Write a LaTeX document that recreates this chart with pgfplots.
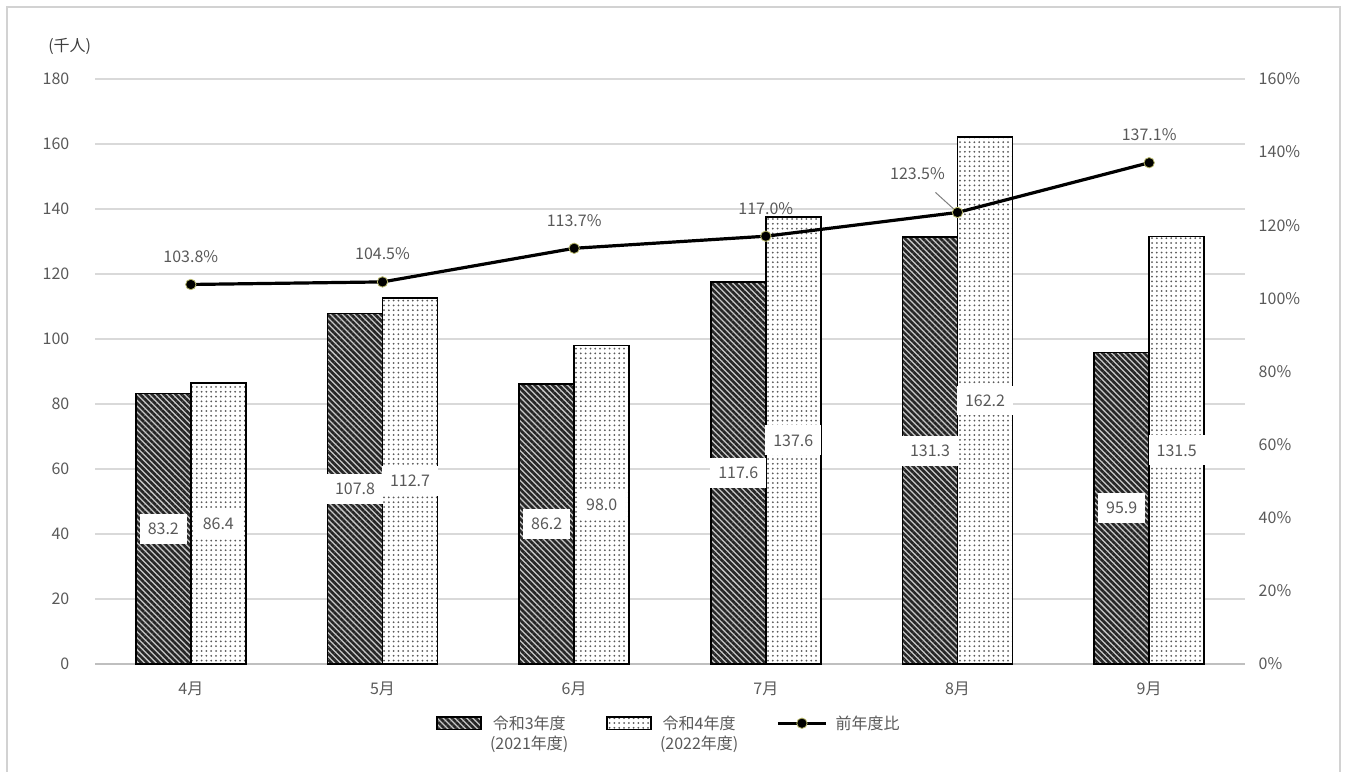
\documentclass[border=0pt]{standalone}
\usepackage{fontspec}
\setmainfont{Noto Sans CJK JP}
\usepackage{pgfplots}
\pgfplotsset{compat=1.18}
\usepackage{pgfplotstable}
\usetikzlibrary{patterns.meta}

\definecolor{txt}{HTML}{595959}
\definecolor{gridc}{HTML}{D9D9D9}
\definecolor{axisc}{HTML}{BFBFBF}
\definecolor{mkc}{HTML}{B8B86A}

% visitors (thousand persons), FY2021 vs FY2022
\pgfplotstableread{
x  v21   v22
0  83.2  86.4
1  107.8 112.7
2  86.2  98.0
3  117.6 137.6
4  131.3 162.2
5  95.9  131.5
}\visitors

% ratio to previous year (%), label offsets in pt
\pgfplotstableread{
x  r     dx   dy
0  103.8 0    14
1  104.5 0    14
2  113.7 0    14
3  117.0 0    14
4  123.5 -20  19.5
5  137.1 0    14
}\ratio

\pgfplotsset{
  /pgf/number format/assume math mode=true,
  base/.style={
    scale only axis, width=575pt, height=292.5pt,
    xmin=-0.5, xmax=5.5,
    tick label style={text=txt},
    major tick length=0pt,
  },
  s21/.style={draw=black, line width=0.8pt, fill=black!22,
    postaction={pattern={Lines[angle=-45,distance=2.1pt,line width=1.3pt]}, pattern color=black!85}},
  s22/.style={draw=black, line width=0.8pt, fill=white,
    postaction={pattern={Dots[distance=2.4pt,radius=0.5pt]}, pattern color=black!65}},
  barleg/.style={legend image code/.code={\draw[##1] (0pt,2.3pt) rectangle (22pt,8.7pt);}},
  lineleg/.style={legend image code/.code={\draw[mark repeat=2,mark phase=2,##1] plot coordinates {(0pt,5.5pt) (12pt,5.5pt) (24pt,5.5pt)};}},
  barlabel/.style={
    nodes near coords={\pgfmathprintnumber[fixed,precision=1,fixed zerofill]{\pgfplotspointmeta}},
    every node near coord/.append style={anchor=center, yshift={-0.8125pt*\hv},
      fill=white, text=txt, inner xsep=4pt, inner ysep=4.5pt},
  },
}

\begin{document}
\fontsize{8}{10}\selectfont
\begin{tikzpicture}
\begin{axis}[
  base,
  clip=false,
  ymin=0, ymax=180,
  ytick={0,20,...,180},
  ymajorgrids=true,
  grid style={gridc, line width=0.6pt},
  axis y line*=left,
  y axis line style={draw=none},
  axis x line*=bottom,
  x axis line style={axisc, line width=0.6pt},
  xtick=data,
  xticklabels={4月,5月,6月,7月,8月,9月},
  xticklabel style={yshift=-6pt},
  yticklabel style={xshift=-10pt},
  ybar=0pt, bar width=27.5pt,
]
\addplot[s21, barlabel, visualization depends on={\thisrow{v21}\as\hv}]
  table[x=x, y=v21] {\visitors};
\addplot[s22, barlabel, visualization depends on={\thisrow{v22}\as\hv}]
  table[x=x, y=v22] {\visitors};
\node[text=black!75] at (rel axis cs:-0.022,1.055) {(千人)};
\end{axis}

\begin{axis}[
  base,
  ymin=0, ymax=160,
  ytick={0,20,...,160},
  axis x line=none,
  axis y line*=right,
  y axis line style={draw=none},
  yticklabel={\pgfmathprintnumber{\tick}\%},
  yticklabel style={xshift=4pt},
  legend columns=3,
  legend style={draw=none, fill=none, at={(0.5,-0.075)}, anchor=north,
    text=txt, cells={align=center},
    /tikz/every odd column/.append style={column sep=2pt},
    /tikz/every even column/.append style={column sep=17pt}},
]
\addlegendimage{s21, barleg}
\addlegendentry{令和3年度\\(2021年度)}
\addlegendimage{s22, barleg}
\addlegendentry{令和4年度\\(2022年度)}
\addplot[black, line width=1.6pt, mark=*,
  mark options={fill=black, draw=mkc, line width=0.4pt},
  mark size=2.6pt, lineleg,
  nodes near coords={\pgfmathprintnumber[fixed,precision=1,fixed zerofill]{\pgfplotspointmeta}\%},
  visualization depends on={\thisrow{dx}\as\dx},
  visualization depends on={\thisrow{dy}\as\dy},
  every node near coord/.append style={anchor=center, text=txt, xshift={\dx pt}, yshift={\dy pt}},
] table[x=x, y=r] {\ratio};
\addlegendentry{前年度比\\\phantom{(}}
\draw[gray, line width=0.5pt] (axis cs:4,123.5) -- ++(-11pt,10pt);
\end{axis}

\draw[axisc!70, line width=0.6pt] (-44pt,-70pt) -- (-44pt,328.5pt) -- (622.5pt,328.5pt) -- (622.5pt,-70pt);
\pgfresetboundingbox
\path (-47.5pt,-53.5pt) rectangle (627pt,332pt);
\end{tikzpicture}
\end{document}
